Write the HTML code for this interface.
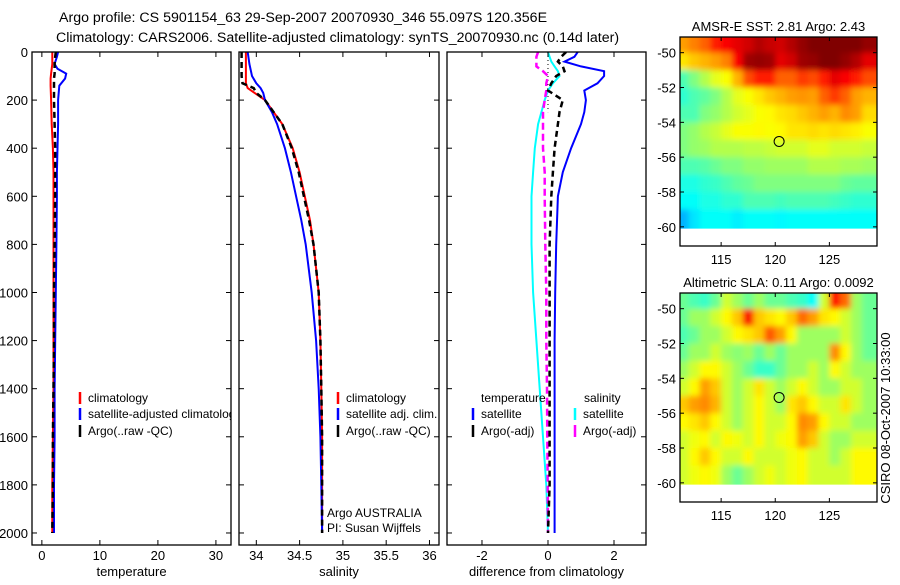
<!DOCTYPE html>
<html><head><meta charset="utf-8"><style>
body{margin:0;background:#fff;width:900px;height:580px;overflow:hidden}
svg{font-family:"Liberation Sans",sans-serif;font-size:13px}
</style></head><body>
<svg id="fig" width="900" height="580">
<defs><filter id="blur" x="-5%" y="-5%" width="110%" height="110%"><feGaussianBlur stdDeviation="3"/></filter></defs>
<text x="59" y="22" font-size="14.2">Argo profile: CS 5901154_63 29-Sep-2007 20070930_346 55.097S 120.356E</text>
<text x="56" y="42" font-size="14.2">Climatology: CARS2006. Satellite-adjusted climatology: synTS_20070930.nc (0.14d later)</text>
<text x="890" y="418" font-size="13" transform="rotate(-90 890 418)" text-anchor="middle">CSIRO 08-Oct-2007 10:33:00</text>
</svg>
<script>
// ---- data ----
const depths=[0,20,50,70,90,110,140,200,300,400,500,600,800,1000,1200,1400,1600,1800,2000];
const tempClim=[1.8,1.8,1.8,1.7,1.6,1.5,1.5,1.6,1.7,1.9,2.0,2.0,2.0,2.0,2.0,2.0,1.9,1.8,1.8];
const tempSat=[2.8,2.6,2.2,2.7,4.2,4.0,3.0,2.8,2.8,2.7,2.6,2.6,2.5,2.4,2.3,2.2,2.2,2.1,2.1];
const tempArgo=[2.4,2.3,2.2,2.2,2.2,2.1,2.1,2.1,2.2,2.3,2.3,2.3,2.2,2.1,2.1,2.0,1.9,1.9,1.8];
const salDepths=[0,50,100,130,150,170,200,250,300,400,500,600,700,800,1000,1200,1400,1600,1800,2000];
const salClim=[33.88,33.88,33.88,33.88,33.9,33.98,34.1,34.2,34.3,34.42,34.5,34.56,34.62,34.66,34.72,34.74,34.75,34.76,34.76,34.76];
const salSat=[33.9,33.92,33.95,34.0,34.05,34.08,34.1,34.18,34.24,34.33,34.4,34.46,34.52,34.57,34.64,34.69,34.72,34.74,34.75,34.76];
const salArgo=[33.83,33.83,33.83,33.84,33.97,34.0,34.1,34.2,34.3,34.41,34.49,34.55,34.61,34.66,34.72,34.74,34.75,34.76,34.76,34.76];
const diffDepths=[0,20,40,60,80,100,130,160,200,250,300,400,500,600,800,1000,1200,1400,1600,1800,2000];
const tempSatDiff=[0.9,0.8,0.5,1.0,1.7,1.7,1.5,1.1,1.15,1.1,1.0,0.7,0.45,0.3,0.25,0.22,0.2,0.2,0.2,0.2,0.2];
const tempArgoDiff=[0.55,0.4,0.3,0.45,0.5,0.25,0.1,0.0,0.45,0.35,0.3,0.2,0.15,0.1,0.05,0.05,0.05,0.05,0.05,0.05,0.0];
const salSatDiff=[0,0.05,0.1,0.2,0.3,0.35,0.15,0,-0.1,-0.2,-0.3,-0.4,-0.45,-0.5,-0.5,-0.45,-0.35,-0.25,-0.15,-0.05,0];
const salArgoDiff=[-0.3,-0.35,-0.35,-0.35,-0.15,0.0,-0.05,-0.05,-0.1,-0.15,-0.15,-0.15,-0.1,-0.1,-0.08,-0.05,-0.05,-0.03,-0.02,-0.01,0];
const depthTicks=[0,200,400,600,800,1000,1200,1400,1600,1800,2000];
const tempTicks=[0,10,20,30];
const salTicks=[34,34.5,35,35.5,36];
const diffTicks=[-2,0,2];
const latTicks=[-50,-52,-54,-56,-58,-60];
const lonTicks=[115,120,125];
const sstGrid=[
[0.72,0.75,0.78,0.85,0.88,0.9,0.92,0.95,0.93,0.92,0.95,0.98,1,1,1,1,1,0.98],
[0.65,0.68,0.7,0.72,0.75,0.88,0.97,0.98,0.97,0.9,0.92,0.97,0.98,1,1,0.98,0.95,0.9],
[0.45,0.5,0.55,0.6,0.62,0.7,0.8,0.85,0.85,0.78,0.78,0.82,0.8,0.85,0.9,0.88,0.85,0.8],
[0.42,0.45,0.47,0.5,0.55,0.6,0.62,0.65,0.68,0.7,0.72,0.73,0.72,0.78,0.82,0.78,0.72,0.7],
[0.45,0.45,0.5,0.52,0.55,0.58,0.6,0.62,0.63,0.65,0.66,0.68,0.7,0.72,0.7,0.74,0.72,0.66],
[0.5,0.52,0.55,0.57,0.6,0.62,0.62,0.63,0.62,0.63,0.65,0.65,0.66,0.65,0.66,0.65,0.64,0.62],
[0.5,0.52,0.53,0.55,0.55,0.55,0.56,0.56,0.57,0.58,0.58,0.58,0.6,0.6,0.58,0.58,0.58,0.57],
[0.45,0.45,0.46,0.48,0.5,0.5,0.52,0.52,0.53,0.53,0.53,0.53,0.55,0.55,0.55,0.54,0.54,0.53],
[0.4,0.4,0.42,0.43,0.45,0.47,0.48,0.5,0.5,0.5,0.5,0.5,0.5,0.5,0.5,0.48,0.47,0.47],
[0.38,0.38,0.4,0.4,0.42,0.42,0.45,0.45,0.45,0.44,0.45,0.45,0.45,0.45,0.44,0.43,0.42,0.42],
[0.3,0.35,0.38,0.38,0.38,0.36,0.38,0.38,0.38,0.37,0.38,0.38,0.38,0.38,0.38,0.38,0.38,0.38]];
const slaGrid=[
[0.48,0.45,0.43,0.48,0.58,0.53,0.48,0.53,0.48,0.48,0.45,0.43,0.38,0.58,0.86,0.77,0.53,0.48],
[0.48,0.53,0.53,0.58,0.63,0.68,0.88,0.68,0.65,0.63,0.68,0.77,0.72,0.65,0.63,0.58,0.53,0.48],
[0.45,0.48,0.53,0.53,0.58,0.63,0.65,0.68,0.79,0.72,0.63,0.53,0.53,0.53,0.53,0.58,0.53,0.48],
[0.48,0.53,0.53,0.58,0.53,0.51,0.53,0.48,0.53,0.48,0.53,0.53,0.53,0.53,0.74,0.63,0.53,0.48],
[0.53,0.58,0.63,0.63,0.58,0.53,0.48,0.43,0.43,0.48,0.53,0.53,0.58,0.53,0.63,0.58,0.53,0.53],
[0.58,0.63,0.72,0.68,0.58,0.53,0.58,0.65,0.58,0.53,0.58,0.63,0.58,0.53,0.53,0.58,0.58,0.53],
[0.68,0.72,0.74,0.7,0.58,0.53,0.58,0.63,0.58,0.53,0.65,0.68,0.63,0.58,0.58,0.65,0.58,0.53],
[0.63,0.65,0.68,0.63,0.58,0.53,0.58,0.63,0.58,0.58,0.63,0.74,0.72,0.63,0.58,0.58,0.53,0.53],
[0.58,0.61,0.63,0.58,0.63,0.61,0.58,0.63,0.58,0.61,0.63,0.72,0.68,0.58,0.53,0.53,0.58,0.58],
[0.58,0.63,0.68,0.63,0.58,0.58,0.63,0.58,0.58,0.58,0.61,0.63,0.58,0.58,0.53,0.58,0.63,0.63],
[0.58,0.61,0.63,0.61,0.53,0.48,0.53,0.58,0.61,0.58,0.61,0.63,0.58,0.58,0.58,0.58,0.63,0.63]];
const argoLon=120.356, argoLat=-55.097;

// ---- drawing ----
const NS='http://www.w3.org/2000/svg';
const svg=document.getElementById('fig');
function el(tag,attrs,parent){const e=document.createElementNS(NS,tag);for(const k in attrs)e.setAttribute(k,attrs[k]);(parent||svg).appendChild(e);return e;}
const Y0=52,Y1=545,DMAX=2050;
const yD=d=>Y0+d/DMAX*(Y1-Y0);
function panel(name,x0,x1,xmin,xmax,xticks,label,showY){
  const xs=v=>x0+(v-xmin)/(xmax-xmin)*(x1-x0);
  const g=el('g',{});
  
  
  const cp=el('clipPath',{id:name+'-clip'},g);el('rect',{x:x0,y:Y0,width:x1-x0,height:Y1-Y0},cp);
  const inner=el('g',{'clip-path':'url(#'+name+'-clip)'},g);
  const r=el('rect',{x:x0,y:Y0,width:x1-x0,height:Y1-Y0,fill:'none',stroke:'#000','stroke-width':1.3},g);
  
  
  xticks.forEach(t=>{const x=xs(t);
    el('line',{x1:x,x2:x,y1:Y0,y2:Y0+5,stroke:'#000'},g);
    el('line',{x1:x,x2:x,y1:Y1,y2:Y1-5,stroke:'#000'},g);
    const tx=el('text',{x:x,y:560,'text-anchor':'middle'},g);tx.textContent=t;
    
    
  });
  depthTicks.forEach(d=>{const y=yD(d);
    el('line',{x1:x0,x2:x0+5,y1:y,y2:y,stroke:'#000'},g);
    el('line',{x1:x1,x2:x1-5,y1:y,y2:y,stroke:'#000'},g);
    if(showY){const tx=el('text',{x:x0-4,y:y+5,'text-anchor':'end'},g);tx.textContent=d;
      
      }
  });
  const lt=el('text',{x:(x0+x1)/2,y:576,'text-anchor':'middle'},g);lt.textContent=label;
  
  
  return {g:inner,outer:g,xs};
}
function line(p,vals,ds,color,dash,w,name){
  const pts=vals.map((v,i)=>p.xs(v).toFixed(1)+','+yD(ds[i]).toFixed(1)).join(' ');
  const l=el('polyline',{points:pts,fill:'none',stroke:color,'stroke-width':w||2,'stroke-dasharray':dash||'none'},p.g);
  
  
}
function legend(g,x,y,color,text){
  el('line',{x1:x,x2:x,y1:y-10,y2:y+2,stroke:color,'stroke-width':2.5},g);
  const t=el('text',{x:x+8,y:y,'font-size':12},g);t.textContent=text;
  
  
}
// temperature panel
const p1=panel('temperature-panel',32,231,-1.7,32.6,tempTicks,'temperature',true);
line(p1,tempClim,depths,'#f00','',2,'temp-climatology-line');
line(p1,tempSat,depths,'#00f','',2,'temp-satellite-line');
line(p1,tempArgo,depths,'#000','6,4',2.5,'temp-argo-line');
legend(p1.g,80,402,'#f00','climatology');
legend(p1.g,80,418,'#00f','satellite-adjusted climatology');
legend(p1.g,80,435,'#000','Argo(..raw -QC)');
// salinity panel
const p2=panel('salinity-panel',239,439,33.8,36.11,salTicks,'salinity',false);
line(p2,salClim,salDepths,'#f00','',2,'sal-climatology-line');
line(p2,salSat,salDepths,'#00f','',2,'sal-satellite-line');
line(p2,salArgo,salDepths,'#000','6,4',2.5,'sal-argo-line');
legend(p2.outer,338,402,'#f00','climatology');
legend(p2.outer,338,418,'#00f','satellite adj. clim.');
legend(p2.outer,338,435,'#000','Argo(..raw -QC)');
const a1=el('text',{x:327,y:517,'font-size':12},p2.outer);a1.textContent='Argo AUSTRALIA';


const a2=el('text',{x:327,y:532,'font-size':12},p2.outer);a2.textContent='PI: Susan Wijffels';


// difference panel
const p3=panel('difference-panel',447,646,-3.06,2.97,diffTicks,'difference from climatology',false);
el('line',{x1:p3.xs(0),x2:p3.xs(0),y1:Y0,y2:yD(250),stroke:'#000','stroke-dasharray':'1,3'},p3.g);
line(p3,salSatDiff,diffDepths,'#0ff','',2,'sal-satellite-diff-line');
line(p3,salArgoDiff,diffDepths,'#f0f','7,4',2.5,'sal-argo-diff-line');
line(p3,tempSatDiff,diffDepths,'#00f','',2,'temp-satellite-diff-line');
line(p3,tempArgoDiff,diffDepths,'#000','6,4',2.5,'temp-argo-diff-line');
const th=el('text',{x:481,y:402,'font-size':12},p3.outer);th.textContent='temperature';


const sh=el('text',{x:584,y:402,'font-size':12},p3.outer);sh.textContent='salinity';


legend(p3.outer,473,418,'#00f','satellite');
legend(p3.outer,473,435,'#000','Argo(-adj)');
legend(p3.outer,575,418,'#0ff','satellite');
legend(p3.outer,575,435,'#f0f','Argo(-adj)');
// maps
function jet(v){v=Math.max(0,Math.min(1,v));
  const c=x=>Math.round(255*Math.max(0,Math.min(1,1.5-Math.abs(4*v-x))));
  return 'rgb('+c(3)+','+c(2)+','+c(1)+')';}
function map(name,top,grid,title){
  const x0=680,x1=877,y0=top,y1=top+209;
  const lonMin=111.2,lonMax=129.4,latMax=-49.1,latMin=-61.1;
  const xs=v=>x0+(v-lonMin)/(lonMax-lonMin)*(x1-x0);
  const ys=v=>y0+(latMax-v)/(latMax-latMin)*(y1-y0);
  const g=el('g',{});
  
  
  const cid=name+'-clip';
  const cp=el('clipPath',{id:cid},g);el('rect',{x:x0,y:y0,width:x1-x0,height:ys(-60.1)-y0},cp);
  const cg=el('g',{'clip-path':'url(#'+cid+')'},g);
  const bg=el('g',{filter:'url(#blur)'},cg);
  const nr=grid.length,nc=grid[0].length;
  grid.forEach((row,i)=>row.forEach((v,j)=>{
    const la=-49-i, lo=111+j;
    let xa=xs(lo),xb=xs(lo+1),ya=ys(la),yb=ys(la-1);
    if(j===0)xa-=15; if(j===nc-1)xb+=15; if(i===0)ya-=15; if(i===nr-1)yb+=15;
    const r=el('rect',{x:xa.toFixed(2),y:ya.toFixed(2),width:(xb-xa+0.6).toFixed(2),height:(yb-ya+0.6).toFixed(2),fill:jet(v)},bg);
    
    
  }));
  el('rect',{x:x0,y:y0,width:x1-x0,height:y1-y0,fill:'none',stroke:'#000','stroke-width':1.3},g);
  latTicks.forEach(t=>{const y=ys(t);
    el('line',{x1:x0,x2:x0+4,y1:y,y2:y,stroke:'#000'},g);
    el('line',{x1:x1,x2:x1-4,y1:y,y2:y,stroke:'#000'},g);
    const tx=el('text',{x:x0-4,y:y+5,'text-anchor':'end'},g);tx.textContent=t;
    
    });
  lonTicks.forEach(t=>{const x=xs(t);
    el('line',{x1:x,x2:x,y1:y0,y2:y0+4,stroke:'#000'},g);
    el('line',{x1:x,x2:x,y1:y1,y2:y1-4,stroke:'#000'},g);
    const tx=el('text',{x:x,y:y1+18,'text-anchor':'middle'},g);tx.textContent=t;
    
    });
  const c=el('circle',{cx:xs(argoLon),cy:ys(argoLat),r:5,fill:'none',stroke:'#000','stroke-width':1},g);
  
  
  const tt=el('text',{x:(x0+x1)/2,y:y0-6,'text-anchor':'middle'},g);tt.textContent=title;
  
  
}
map('sst-map',37,sstGrid,'AMSR-E SST: 2.81 Argo: 2.43');
map('sla-map',293,slaGrid,'Altimetric SLA: 0.11 Argo: 0.0092');
</script>
</body></html>
